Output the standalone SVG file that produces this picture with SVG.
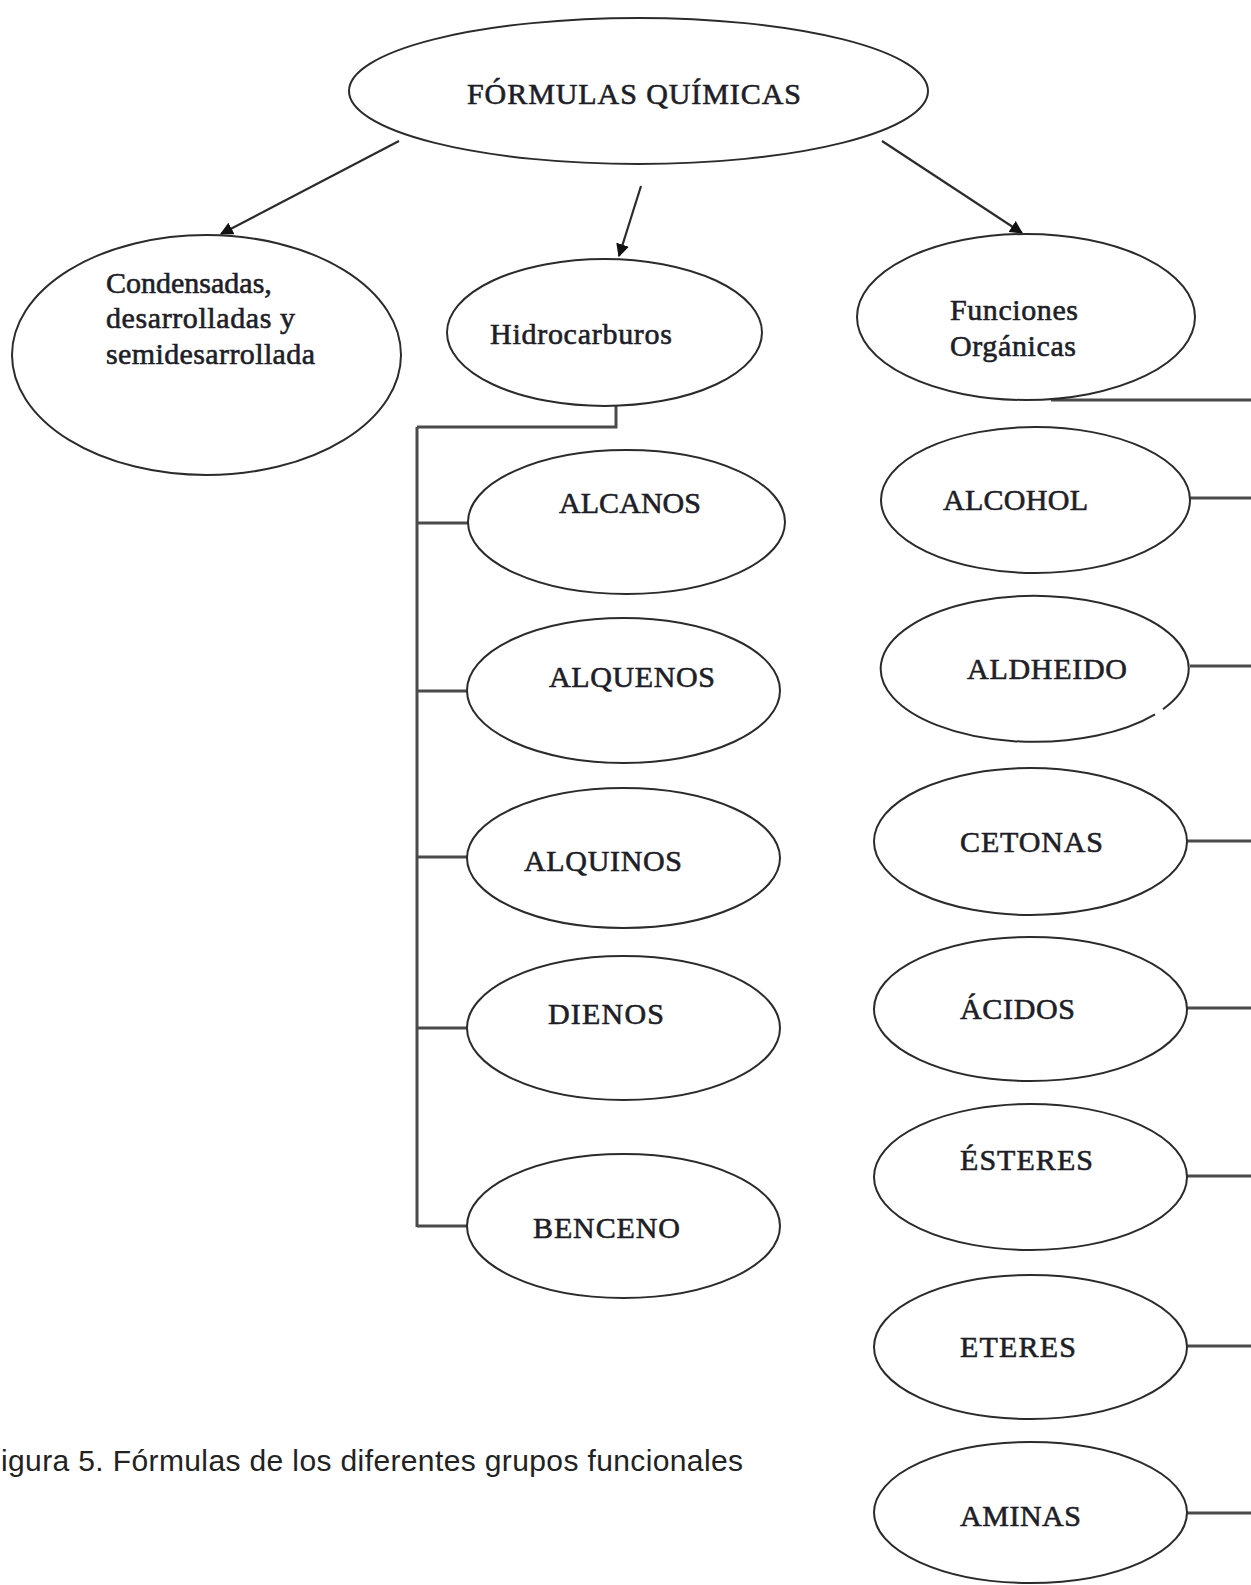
<svg xmlns="http://www.w3.org/2000/svg" width="1251" height="1585" viewBox="0 0 1251 1585">
  <style>
    .node { fill: #ffffff; stroke: #2b2b2b; stroke-width: 2; }
    .lbl { font-family: "Liberation Serif", "Times New Roman", serif; font-size: 30px; fill: #1e1e28; stroke: #1e1e28; stroke-width: 0.6; }
    .arrow { stroke: #2b2b2b; stroke-width: 2.2; fill: none; }
    .link { stroke: #4a4a4a; stroke-width: 3; fill: none; }
    .caption { font-family: "Liberation Sans", Arial, sans-serif; font-size: 30px; fill: #222222; }
  </style>
  <defs>
    <marker id="head" viewBox="0 0 10 10" refX="9" refY="5" markerWidth="6" markerHeight="6" markerUnits="strokeWidth" orient="auto">
      <path d="M0,0 L10,5 L0,10 z" fill="#111111"/>
    </marker>
  </defs>
  <rect width="1251" height="1585" fill="#ffffff"/>

  <!-- connectors -->
  <g id="connectors">
    <line class="arrow" x1="399" y1="141" x2="221" y2="234" marker-end="url(#head)"/>
    <line class="arrow" x1="641" y1="186" x2="619" y2="256" marker-end="url(#head)"/>
    <line class="arrow" x1="882" y1="141" x2="1022" y2="233" marker-end="url(#head)"/>
    <!-- hydrocarbon bracket -->
    <polyline class="link" points="616,406 616,427 417,427"/>
    <line class="link" x1="417" y1="427" x2="417" y2="1227"/>
    <line class="link" x1="417" y1="523" x2="468" y2="523"/>
    <line class="link" x1="417" y1="691" x2="467" y2="691"/>
    <line class="link" x1="417" y1="857" x2="467" y2="857"/>
    <line class="link" x1="417" y1="1028" x2="467" y2="1028"/>
    <line class="link" x1="417" y1="1226" x2="467" y2="1226"/>
    <!-- organic function lines to the right edge -->
    <line class="link" x1="1051" y1="400" x2="1251" y2="400"/>
    <line class="link" x1="1190" y1="498" x2="1251" y2="498"/>
    <line class="link" x1="1190" y1="666" x2="1251" y2="666"/>
    <line class="link" x1="1187" y1="841" x2="1251" y2="841"/>
    <line class="link" x1="1187" y1="1008" x2="1251" y2="1008"/>
    <line class="link" x1="1187" y1="1176" x2="1251" y2="1176"/>
    <line class="link" x1="1187" y1="1346" x2="1251" y2="1346"/>
    <line class="link" x1="1187" y1="1513" x2="1251" y2="1513"/>
  </g>

  <g id="formulas-quimicas">
    <ellipse class="node" cx="638.5" cy="91" rx="289.5" ry="73"/>
    <text class="lbl" x="467" y="104" textLength="334">FÓRMULAS  QUÍMICAS</text>
  </g>

  <g id="condensadas">
    <ellipse class="node" cx="206.5" cy="355" rx="194.5" ry="120"/>
    <text class="lbl" x="106" y="293">Condensadas,</text>
    <text class="lbl" x="106" y="328" textLength="189">desarrolladas y</text>
    <text class="lbl" x="106" y="364" textLength="209">semidesarrollada</text>
  </g>

  <g id="hidrocarburos">
    <ellipse class="node" cx="604.5" cy="332.5" rx="157.5" ry="73.5"/>
    <text class="lbl" x="490" y="344" textLength="182">Hidrocarburos</text>
  </g>

  <g id="funciones-organicas">
    <ellipse class="node" cx="1026" cy="317" rx="169" ry="83"/>
    <text class="lbl" x="950" y="320" textLength="128">Funciones</text>
    <text class="lbl" x="950" y="356" textLength="126">Orgánicas</text>
  </g>

  <g id="alcanos">
    <ellipse class="node" cx="626.5" cy="522" rx="158.5" ry="72"/>
    <text class="lbl" x="559" y="513" textLength="142">ALCANOS</text>
  </g>

  <g id="alquenos">
    <ellipse class="node" cx="623.5" cy="690.5" rx="156.5" ry="72.5"/>
    <text class="lbl" x="549" y="687" textLength="166">ALQUENOS</text>
  </g>

  <g id="alquinos">
    <ellipse class="node" cx="623.5" cy="858" rx="156.5" ry="70"/>
    <text class="lbl" x="524" y="871" textLength="158">ALQUINOS</text>
  </g>

  <g id="dienos">
    <ellipse class="node" cx="623.5" cy="1028" rx="156.5" ry="72"/>
    <text class="lbl" x="548" y="1024" textLength="116">DIENOS</text>
  </g>

  <g id="benceno">
    <ellipse class="node" cx="623.5" cy="1226" rx="156.5" ry="72"/>
    <text class="lbl" x="533" y="1238" textLength="147">BENCENO</text>
  </g>

  <g id="alcohol">
    <ellipse class="node" cx="1035.5" cy="500" rx="154.5" ry="73"/>
    <text class="lbl" x="943" y="510" textLength="145">ALCOHOL</text>
  </g>

  <g id="aldheido">
    <!-- outline with a small break on the lower right -->
    <path class="node" d="M1155,714.4 A154,73 0 1 1 1163,709.2"/>
    <text class="lbl" x="967" y="679" textLength="160">ALDHEIDO</text>
  </g>

  <g id="cetonas">
    <ellipse class="node" cx="1030.5" cy="841.5" rx="156.5" ry="73.5"/>
    <text class="lbl" x="960" y="852" textLength="143">CETONAS</text>
  </g>

  <g id="acidos">
    <ellipse class="node" cx="1030.5" cy="1009" rx="156.5" ry="72"/>
    <text class="lbl" x="960" y="1019" textLength="115">ÁCIDOS</text>
  </g>

  <g id="esteres">
    <ellipse class="node" cx="1030.5" cy="1177" rx="156.5" ry="73"/>
    <text class="lbl" x="960" y="1170" textLength="133">ÉSTERES</text>
  </g>

  <g id="eteres">
    <ellipse class="node" cx="1030.5" cy="1347" rx="156.5" ry="72"/>
    <text class="lbl" x="960" y="1357" textLength="116">ETERES</text>
  </g>

  <g id="aminas">
    <ellipse class="node" cx="1030.5" cy="1512.5" rx="156.5" ry="70.5"/>
    <text class="lbl" x="960" y="1526" textLength="121">AMINAS</text>
  </g>

  <text class="caption" x="1" y="1471" textLength="742">igura 5. Fórmulas de los diferentes grupos funcionales</text>
</svg>
